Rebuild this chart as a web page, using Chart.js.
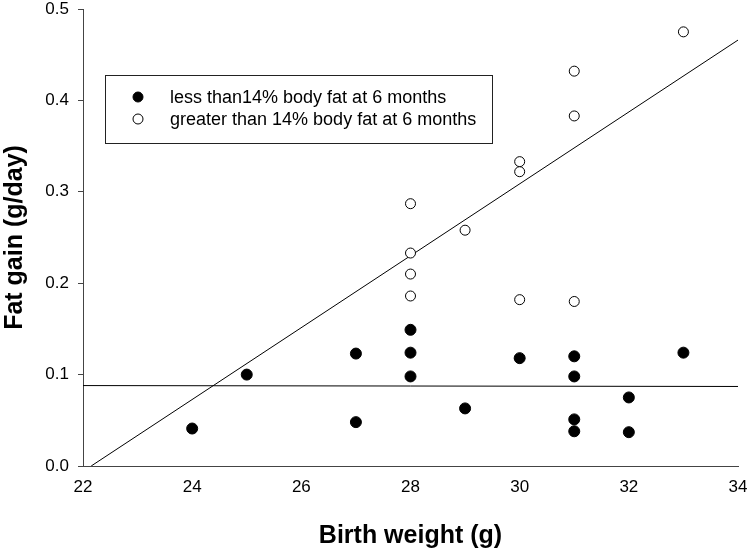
<!DOCTYPE html>
<html>
<head>
<meta charset="utf-8">
<script src="https://cdn.jsdelivr.net/npm/chart.js@4"></script>
<style>
  html, body { margin: 0; padding: 0; background: #fff; }
  #wrap { width: 750px; height: 551px; }
</style>
</head>
<body>
<div id="wrap"><canvas id="grafico" width="750" height="551"></canvas></div>
<script>
// dados
const lowX = [24, 25, 27, 27, 28, 28, 28, 29, 30, 31, 31, 31, 31, 32, 32, 33];
const lowY = [0.041, 0.100, 0.123, 0.048, 0.149, 0.124, 0.098, 0.063, 0.118, 0.120, 0.098, 0.051, 0.038, 0.075, 0.037, 0.124];
const highX = [28, 28, 28, 28, 29, 30, 30, 30, 31, 31, 31, 33];
const highY = [0.287, 0.233, 0.210, 0.186, 0.258, 0.333, 0.322, 0.182, 0.432, 0.383, 0.180, 0.475];
const fitHighX = [22.15, 34];
const fitHighY = [0, 0.466];
const fitLowX = [22, 34];
const fitLowY = [0.088, 0.087];
const xTicks = [22, 24, 26, 28, 30, 32, 34];
const yTicks = [0.0, 0.1, 0.2, 0.3, 0.4, 0.5];
const labelLow = 'less than14% body fat at 6 months';
const labelHigh = 'greater than 14% body fat at 6 months';

const pts = (xs, ys) => xs.map((x, i) => ({ x: x, y: ys[i] }));
const fonte = 'Arial, "Liberation Sans", sans-serif';

// legenda desenhada dentro da area do grafico
const legendaCaixa = {
    id: 'legendaCaixa',
    afterDraw(chart) {
        const ctx = chart.ctx;
        const left = 105, top = 75, w = 387, h = 68;
        ctx.save();
        ctx.strokeStyle = '#222';
        ctx.lineWidth = 1;
        ctx.strokeRect(left + 0.5, top + 0.5, w, h);
        const itens = [
            { label: labelLow, fill: '#000', y: top + 22 },
            { label: labelHigh, fill: '#fff', y: top + 44 }
        ];
        ctx.font = '18px ' + fonte;
        ctx.textBaseline = 'middle';
        itens.forEach(it => {
            ctx.beginPath();
            ctx.arc(138, it.y, 5, 0, Math.PI * 2);
            ctx.fillStyle = it.fill;
            ctx.fill();
            ctx.strokeStyle = '#000';
            ctx.lineWidth = 1;
            ctx.stroke();
            ctx.fillStyle = '#000';
            ctx.fillText(it.label, 170, it.y + 1);
        });
        ctx.restore();
    }
};

const ctx = document.getElementById('grafico').getContext('2d');
const chart = new Chart(ctx, {
    type: 'scatter',
    data: {
        datasets: [
            {
                label: 'fit high',
                data: pts(fitHighX, fitHighY),
                showLine: true,
                borderColor: '#000',
                borderWidth: 1,
                pointRadius: 0,
                order: 3
            },
            {
                label: 'fit low',
                data: pts(fitLowX, fitLowY),
                showLine: true,
                borderColor: '#000',
                borderWidth: 1,
                pointRadius: 0,
                order: 3
            },
            {
                label: labelLow,
                data: pts(lowX, lowY),
                backgroundColor: '#000',
                borderColor: '#000',
                borderWidth: 1,
                pointRadius: 5.5,
                order: 1
            },
            {
                label: labelHigh,
                data: pts(highX, highY),
                backgroundColor: '#fff',
                borderColor: '#000',
                borderWidth: 1,
                pointRadius: 5,
                order: 2
            }
        ]
    },
    options: {
        responsive: false,
        animation: false,
        layout: { padding: { left: 0, right: 0, top: 0, bottom: 0 } },
        plugins: {
            legend: { display: false },
            tooltip: { enabled: false }
        },
        scales: {
            x: {
                type: 'linear',
                min: 22,
                max: 34,
                afterBuildTicks: s => { s.ticks = xTicks.map(v => ({ value: v })); },
                afterFit: s => {
                    s.height = 85;
                    s.paddingLeft = 0;
                    s.paddingRight = 12;
                },
                grid: { display: false, drawOnChartArea: false, tickLength: 5, tickColor: '#444' },
                border: { display: true, color: '#444', width: 1 },
                ticks: {
                    color: '#000',
                    font: { family: fonte, size: 17 },
                    padding: 6,
                    maxRotation: 0,
                    callback: v => String(v)
                },
                title: {
                    display: true,
                    text: 'Birth weight (g)',
                    color: '#000',
                    font: { family: fonte, size: 25, weight: 'bold' },
                    padding: { top: 0, bottom: 0 }
                }
            },
            y: {
                type: 'linear',
                min: 0,
                max: 0.5,
                afterBuildTicks: s => { s.ticks = yTicks.map(v => ({ value: v })); },
                afterFit: s => {
                    s.width = 83;
                    s.paddingTop = 9;
                    s.paddingBottom = 0;
                },
                grid: { display: true, drawOnChartArea: false, tickLength: 5, tickColor: '#444' },
                border: { display: true, color: '#444', width: 1 },
                ticks: {
                    color: '#000',
                    font: { family: fonte, size: 17 },
                    padding: 9,
                    callback: v => v.toFixed(1)
                },
                title: {
                    display: true,
                    text: 'Fat gain (g/day)',
                    color: '#000',
                    font: { family: fonte, size: 25, weight: 'bold' },
                    padding: { top: 0, bottom: 0 }
                }
            }
        }
    },
    plugins: [legendaCaixa]
});
</script>
</body>
</html>
